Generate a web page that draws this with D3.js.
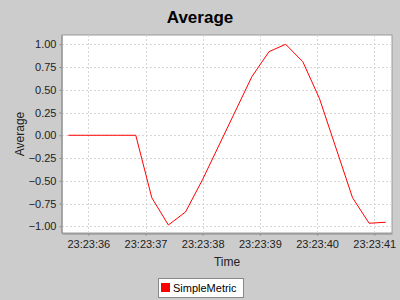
<!DOCTYPE html>
<html>
<head>
<meta charset="utf-8">
<script src="https://cdn.jsdelivr.net/npm/d3@7"></script>
<style>
  body { margin: 0; background: #cccccc; }
  svg { display: block; font-family: "Liberation Sans", Arial, sans-serif; }
</style>
</head>
<body>
<div id="chart"></div>
<script>
// seconds past 23:23:00
let times = [35.65, 35.94, 36.24, 36.53, 36.83, 37.11, 37.40, 37.70, 38.00, 38.86,
  39.16, 39.45, 39.75, 40.04, 40.62, 40.91, 41.20];
let values = [0, 0, 0, 0, 0, -0.686, -0.986, -0.843, -0.484, 0.644,
  0.919, 1.0, 0.809, 0.407, -0.686, -0.967, -0.956];
let yTicks = [-1, -0.75, -0.5, -0.25, 0, 0.25, 0.5, 0.75, 1];
let seriesName = "SimpleMetric";

let width = 400, height = 300;
let plot = {left: 62, right: 392, top: 35, bottom: 233};

let base = new Date(2010, 0, 1, 23, 23, 0);
let toDate = s => new Date(base.getTime() + s * 1000);

let svg = d3.select("#chart").append("svg")
  .attr("width", width)
  .attr("height", height);

svg.append("rect").attr("width", width).attr("height", height).attr("fill", "#cccccc");

let x = d3.scaleTime()
  .domain([toDate(35.54), toDate(41.31)])
  .range([plot.left, plot.right]);

let y = d3.scaleLinear()
  .domain([-1.074, 1.102])
  .range([plot.bottom, plot.top]);

//plot background
svg.append("rect")
  .attr("x", plot.left).attr("y", plot.top)
  .attr("width", plot.right - plot.left).attr("height", plot.bottom - plot.top)
  .attr("fill", "white")
  .attr("stroke", "#9a9a9a");

let xTicks = x.ticks(d3.timeSecond.every(1));

//grid lines
svg.append("g").selectAll("line.xg")
  .data(xTicks)
  .enter().append("line")
  .attr("x1", d => Math.round(x(d)) + 0.5).attr("x2", d => Math.round(x(d)) + 0.5)
  .attr("y1", plot.top).attr("y2", plot.bottom)
  .attr("stroke", "#d6d6d6").attr("stroke-dasharray", "2,2");

svg.append("g").selectAll("line.yg")
  .data(yTicks)
  .enter().append("line")
  .attr("x1", plot.left).attr("x2", plot.right)
  .attr("y1", d => Math.round(y(d)) + 0.5).attr("y2", d => Math.round(y(d)) + 0.5)
  .attr("stroke", "#d6d6d6").attr("stroke-dasharray", "2,2");

//axes
let xAxis = d3.axisBottom(x)
  .tickValues(xTicks)
  .tickFormat(d3.timeFormat("%H:%M:%S"))
  .tickSizeInner(2).tickSizeOuter(0).tickPadding(5);

let yAxis = d3.axisLeft(y)
  .tickValues(yTicks)
  .tickFormat(d3.format(".2f"))
  .tickSizeInner(2).tickSizeOuter(0).tickPadding(3);

let gx = svg.append("g")
  .attr("transform", "translate(0," + (plot.bottom + 0.5) + ")")
  .call(xAxis);
let gy = svg.append("g")
  .attr("transform", "translate(" + (plot.left - 0.5) + ",0)")
  .call(yAxis);

[gx, gy].forEach(g => {
  g.select(".domain").attr("stroke", "#888888");
  g.selectAll(".tick line").attr("stroke", "#888888");
  g.selectAll(".tick text").attr("fill", "#222222")
    .style("font-size", "11px").style("font-family", "Liberation Sans, Arial, sans-serif");
});

//series line
let line = d3.line()
  .x((d, i) => x(toDate(times[i])))
  .y(d => y(d));

svg.append("path")
  .datum(values)
  .attr("d", line)
  .attr("fill", "none")
  .attr("stroke", "#ff0000")
  .attr("stroke-width", 1);

//title and labels
svg.append("text")
  .attr("x", 200).attr("y", 23)
  .attr("text-anchor", "middle")
  .style("font-size", "17px").style("font-weight", "bold")
  .text("Average");

svg.append("text")
  .attr("x", 227).attr("y", 266)
  .attr("text-anchor", "middle")
  .attr("fill", "#222222")
  .style("font-size", "12px")
  .text("Time");

svg.append("text")
  .attr("transform", "translate(24," + ((plot.top + plot.bottom) / 2) + ") rotate(-90)")
  .attr("text-anchor", "middle")
  .attr("fill", "#222222")
  .style("font-size", "12px")
  .text("Average");

//legend
let legend = svg.append("g");
legend.append("rect")
  .attr("x", 158.5).attr("y", 278.5).attr("width", 85).attr("height", 19)
  .attr("fill", "white").attr("stroke", "#888888");
legend.append("rect")
  .attr("x", 161).attr("y", 283).attr("width", 9).attr("height", 9)
  .attr("fill", "#ff0000");
legend.append("text")
  .attr("x", 173).attr("y", 292)
  .style("font-size", "11px")
  .text(seriesName);
</script>
</body>
</html>
